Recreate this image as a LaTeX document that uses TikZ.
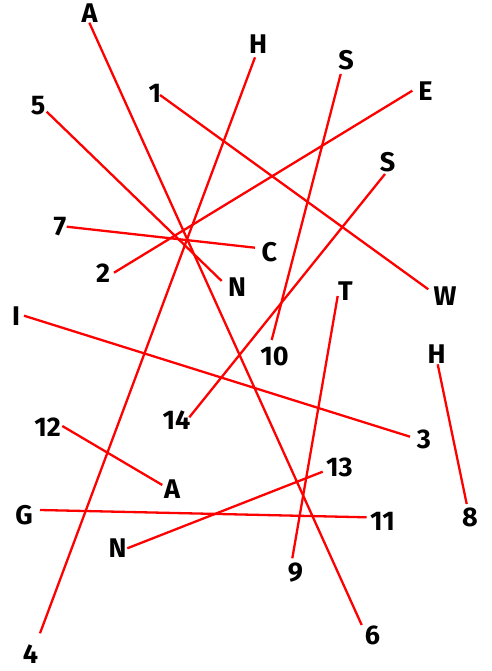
\documentclass[tikz,border=0pt]{standalone}
\usepackage{fontspec}
\setmainfont{Fira Sans}
\begin{document}
\begin{tikzpicture}[x=1pt,y=-1pt,
  lbl/.style={inner sep=0pt,font=\fontsize{27}{27}\selectfont\bfseries},
  link/.style={draw=red,line width=2.3pt}]
\useasboundingbox (0,0) rectangle (491,671);
% labels
\node[lbl] (tA) at (89.5,13.5) {A};
\node[lbl] (t1) at (155,93) {1};
\node[lbl] (t5) at (38,106) {5};
\node[lbl] (tH) at (258,44.5) {H};
\node[lbl] (tS) at (346,60) {S};
\node[lbl] (tE) at (425.5,91) {E};
\node[lbl] (tSb) at (387.5,162) {S};
\node[lbl] (t7) at (60,226.5) {7};
\node[lbl] (t2) at (103,273) {2};
\node[lbl] (tN) at (237,287.5) {N};
\node[lbl] (tI) at (16,316) {I};
\node[lbl] (tC) at (269.5,252.5) {C};
\node[lbl] (tT) at (345.5,291) {T};
\node[lbl] (tW) at (445,296) {W};
\node[lbl] (t12) at (47.5,427) {12};
\node[lbl] (t14) at (176.5,420) {14};
\node[lbl] (tAb) at (172,489.5) {A};
\node[lbl] (t10) at (274.5,356.5) {10};
\node[lbl] (tHb) at (436.5,354) {H};
\node[lbl] (t3) at (424,439) {3};
\node[lbl] (t13) at (339.5,467.5) {13};
\node[lbl] (tG) at (24,515) {G};
\node[lbl] (tNb) at (117.5,548) {N};
\node[lbl] (t4) at (30.5,654) {4};
\node[lbl] (t11) at (382.5,521) {11};
\node[lbl] (t9) at (295.5,573) {9};
\node[lbl] (t6) at (372.5,635) {6};
\node[lbl] (t8) at (470,517.5) {8};
% line ends
\coordinate (pA) at (89.3,22.7);
\coordinate (p6) at (361.7,625);
\coordinate (pH) at (255,57.3);
\coordinate (p4) at (40,633.3);
\coordinate (p1) at (160,95);
\coordinate (pW) at (428.3,289.3);
\coordinate (p5) at (46.7,111.7);
\coordinate (pN) at (221.7,281);
\coordinate (pE) at (412.3,90.7);
\coordinate (p2) at (114,272.7);
\coordinate (pSb) at (385,174);
\coordinate (p14) at (189.3,417.3);
\coordinate (p7) at (66.7,226.7);
\coordinate (pC) at (255,247.7);
\coordinate (pT) at (337.7,296);
\coordinate (p9) at (292.3,558.3);
\coordinate (pI) at (24,315.7);
\coordinate (p3) at (410,436.7);
\coordinate (pHb) at (437.7,364.3);
\coordinate (p8) at (466.7,504);
\coordinate (p12) at (62.3,426);
\coordinate (pAb) at (162.3,485);
\coordinate (pG) at (40,510);
\coordinate (p11) at (366.7,517.3);
\coordinate (p13) at (322.7,471.7);
\coordinate (pNb) at (127.3,548.3);
\coordinate (pS) at (340.7,74);
\coordinate (p10) at (271.7,340);
% connectors
\draw[link] (pA) -- (p6);
\draw[link] (pH) -- (p4);
\draw[link] (p1) -- (pW);
\draw[link] (p5) -- (pN);
\draw[link] (pE) -- (p2);
\draw[link] (pSb) -- (p14);
\draw[link] (p7) -- (pC);
\draw[link] (pT) -- (p9);
\draw[link] (pI) -- (p3);
\draw[link] (pHb) -- (p8);
\draw[link] (p12) -- (pAb);
\draw[link] (pG) -- (p11);
\draw[link] (p13) -- (pNb);
\draw[link] (pS) -- (p10);
\end{tikzpicture}
\end{document}
